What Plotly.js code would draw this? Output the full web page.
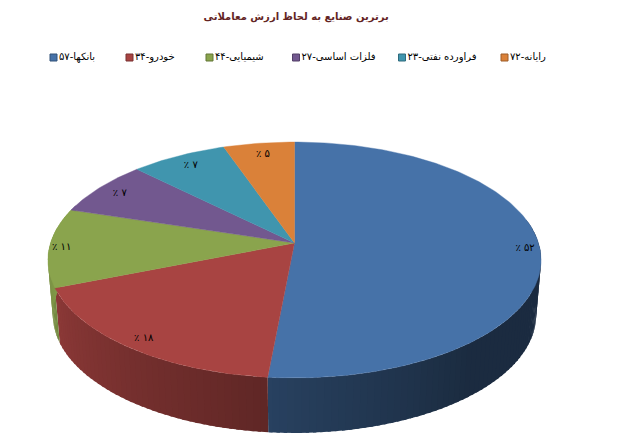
<!DOCTYPE html>
<html><head><meta charset="utf-8">
<script src="https://cdn.plot.ly/plotly-3.0.1.min.js"></script>
<style>html,body{margin:0;padding:0;background:#fff}#c{width:617px;height:435px}</style>
</head><body><div id="c"></div>
<script>
const chartTitle = "برترین صنایع به لحاظ ارزش معاملاتی";
const categories = ["بانکها-۵۷","خودرو-۳۴","شیمیایی-۴۴","فلزات اساسی-۲۷","فراورده نفتی-۲۳","رایانه-۷۲"];
const values = [51.5, 17.5, 10.8, 7.6, 7.25, 5.35];
const valueLabels = ["٪ ۵۲","٪ ۱۸","٪ ۱۱","٪ ۷","٪ ۷","٪ ۵"];
const colors = ["#4672A8","#A84442","#8AA44D","#72588F","#4095AE","#DA8139"];
const legendX = [53.5,129.5,209.5,296,402,504.5];
const labelRadius = [0.94,0.92,0.95,0.89,0.88,0.87];

// disc projection (pixels on the 617x435 axes)
const cx=294.5, cy=243, B=244, A=115.5, k=0.144, depth=55, bottomScale=0.98;
const project=(deg,r=1)=>{const t=deg*Math.PI/180,u=r*Math.sin(t),v=r*Math.cos(t),w=1+k*v;
  return [cx+B*u/w, cy-A*v/w];};
const lower=p=>[cx+(p[0]-cx)*bottomScale,p[1]+depth];
const shade=(hex,f)=>{const n=parseInt(hex.slice(1),16);
  return `rgb(${Math.round((n>>16)*f)},${Math.round(((n>>8)&255)*f)},${Math.round((n&255)*f)})`;};
const wallFactor=d=>d<140?0.38:0.38+(d-140)*0.46/110;

const total=values.reduce((a,b)=>a+b,0);
let start=0; const spans=values.map(v=>{const s=[start,start+v/total*360];start=s[1];return s;});
const traces=[];
// side wall: overlapping strips without outlines give a smooth shading
spans.forEach((s,i)=>{
  const a=Math.max(s[0],78), b=Math.min(s[1],290);
  for(let d=a;d<b;d+=1.5){
    const e=Math.min(d+2.2,b), p=project(d), q=project(e), p2=lower(p), q2=lower(q), col=shade(colors[i],wallFactor(d+0.75));
    traces.push({type:'scatter',mode:'none',x:[p[0],q[0],q2[0],p2[0],p[0]],y:[p[1],q[1],q2[1],p2[1],p[1]],
      fill:'toself',fillcolor:col,hoverinfo:'skip',showlegend:false});
  }
});
// top face
spans.forEach((s,i)=>{
  const xs=[cx],ys=[cy];
  for(let d=s[0];;d+=1){const dd=Math.min(d,s[1]),p=project(dd);xs.push(p[0]);ys.push(p[1]);if(dd>=s[1])break;}
  xs.push(cx);ys.push(cy);
  traces.push({type:'scatter',mode:'lines',x:xs,y:ys,fill:'toself',fillcolor:colors[i],
    line:{color:colors[i],width:0.4},name:categories[i],hoverinfo:'name',showlegend:false});
});
// value labels
const lp=spans.map((s,i)=>project((s[0]+s[1])/2,labelRadius[i]));
traces.push({type:'scatter',mode:'text',x:lp.map(p=>p[0]),y:lp.map(p=>p[1]),text:valueLabels,textposition:'middle center',
  textfont:{family:'DejaVu Sans',size:10,color:'#000'},hoverinfo:'skip',showlegend:false});
// legend row
categories.forEach((c,i)=>{
  traces.push({type:'scatter',mode:'markers+text',x:[legendX[i]],y:[57.5],text:[c],textposition:'middle right',
    textfont:{family:'DejaVu Sans',size:10,color:'#000'},
    marker:{symbol:'square',size:7,color:colors[i],line:{color:shade(colors[i],0.72),width:1}},
    hoverinfo:'skip',showlegend:false});
});
Plotly.newPlot('c',traces,{
  width:617,height:435,margin:{l:0,r:0,t:0,b:0},paper_bgcolor:'#fff',plot_bgcolor:'#fff',showlegend:false,
  title:{text:'<b>'+chartTitle+'</b>',x:0.48,xanchor:'center',y:0.963,yanchor:'middle',
    font:{family:'DejaVu Sans',size:10,color:'#632423'}},
  xaxis:{range:[0,617],visible:false,fixedrange:true},
  yaxis:{range:[435,0],visible:false,fixedrange:true}
},{displayModeBar:false,staticPlot:true});
</script></body></html>
